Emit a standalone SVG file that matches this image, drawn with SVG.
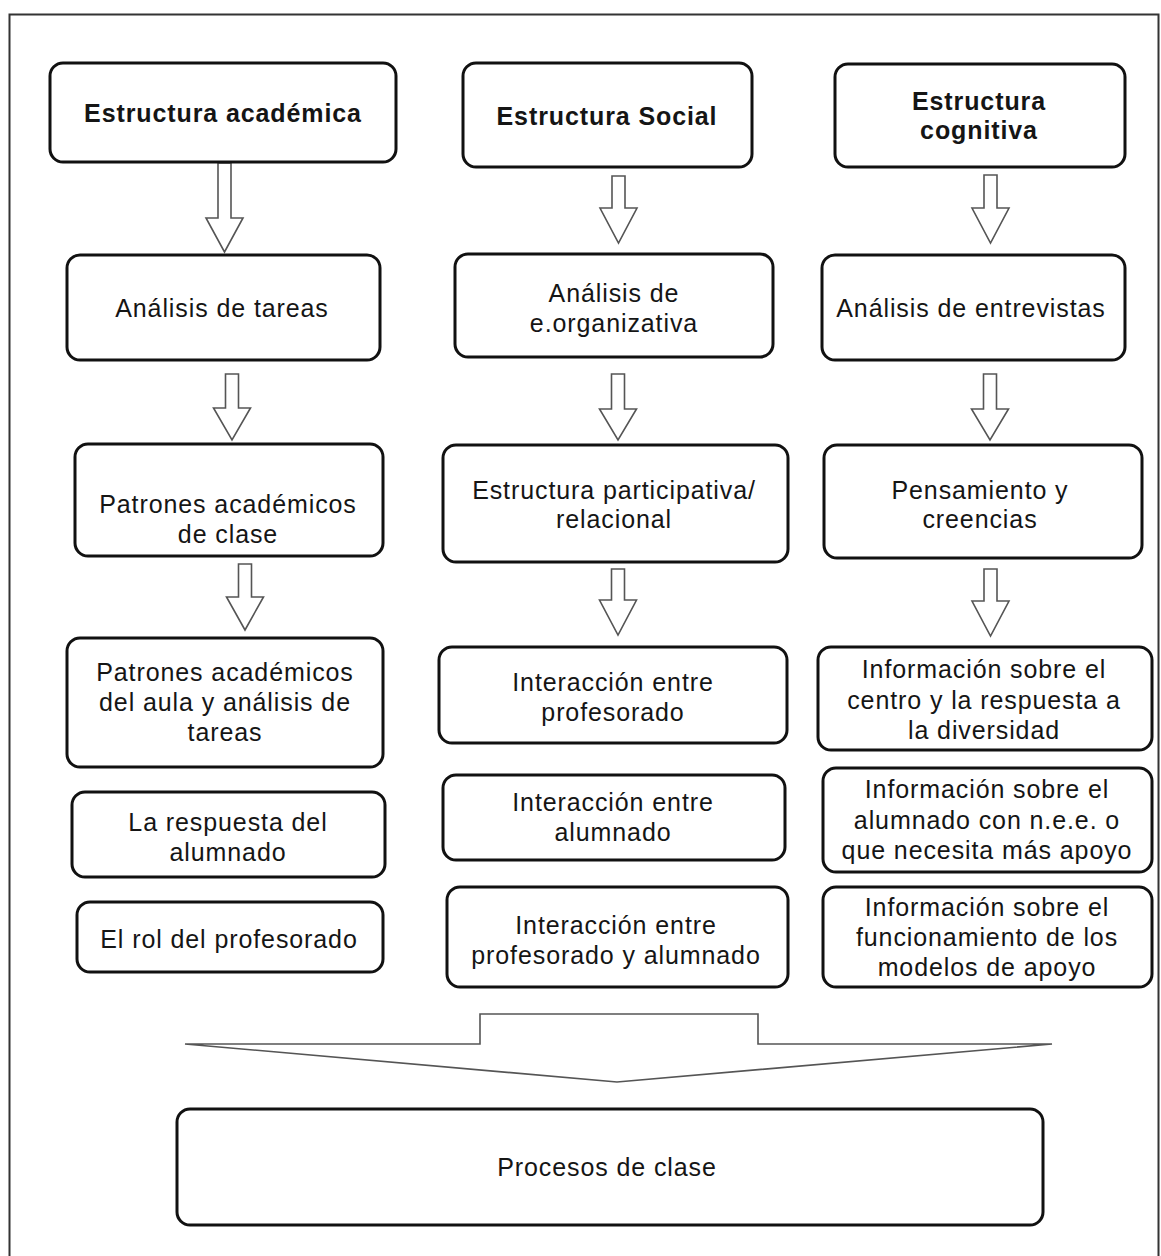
<svg xmlns="http://www.w3.org/2000/svg" width="1161" height="1256" viewBox="0 0 1161 1256">
<style>
.box{fill:#fff;stroke:#111;stroke-width:3}
.arr{fill:#fff;stroke:#555;stroke-width:1.6;stroke-linejoin:miter}
text{font-family:"Liberation Sans",Arial,sans-serif;font-size:25px;fill:#151515;text-anchor:middle;letter-spacing:0.9px}
.b{font-weight:bold}
</style>
<rect x="0" y="0" width="1161" height="1256" fill="#fff"/>
<rect x="9.5" y="14.5" width="1149" height="1260" fill="none" stroke="#333" stroke-width="2"/>

<g id="connectors">
<path class="arr" d="M218,163 H231 V218 H243 L224.5,252 L206,218 H218 Z"/>
<path class="arr" d="M225.5,374 H238.5 V408 H250.5 L232,440 L213.5,408 H225.5 Z"/>
<path class="arr" d="M238.5,564 H251.5 V597 H263.5 L245,630 L226.5,597 H238.5 Z"/>
<path class="arr" d="M612,176 H625 V208 H637 L618.5,243 L600,208 H612 Z"/>
<path class="arr" d="M611.5,374 H624.5 V409 H636.5 L618,440 L599.5,409 H611.5 Z"/>
<path class="arr" d="M611.5,569 H624.5 V600 H636.5 L618,635 L599.5,600 H611.5 Z"/>
<path class="arr" d="M984,175 H997 V208 H1009 L990.5,243 L972,208 H984 Z"/>
<path class="arr" d="M983.5,374 H996.5 V409 H1008.5 L990,440 L971.5,409 H983.5 Z"/>
<path class="arr" d="M984,569 H997 V601 H1009 L990.5,636 L972,601 H984 Z"/>
<path class="arr" d="M185,1044 H480 V1014 H758 V1044 H1052 L617,1082 Z"/>
</g>

<g id="n1"><rect class="box" x="50" y="63" width="346" height="99" rx="13"/><text class="b" x="223" y="122">Estructura académica</text></g>
<g id="n2"><rect class="box" x="463" y="63" width="289" height="104" rx="13"/><text class="b" x="607" y="125">Estructura Social</text></g>
<g id="n3"><rect class="box" x="835" y="64" width="290" height="103" rx="13"/><text class="b" x="979" y="110">Estructura</text><text class="b" x="979" y="139">cognitiva</text></g>

<g id="n4"><rect class="box" x="67" y="255" width="313" height="105" rx="13"/><text x="222" y="317">Análisis de tareas</text></g>
<g id="n5"><rect class="box" x="455" y="254" width="318" height="103" rx="13"/><text x="614" y="302">Análisis de</text><text x="614" y="332">e.organizativa</text></g>
<g id="n6"><rect class="box" x="822" y="255" width="303" height="105" rx="13"/><text x="971" y="317">Análisis de entrevistas</text></g>

<g id="n7"><rect class="box" x="75" y="444" width="308" height="112" rx="13"/><text x="228" y="513">Patrones académicos</text><text x="228" y="543">de clase</text></g>
<g id="n8"><rect class="box" x="443" y="445" width="345" height="117" rx="13"/><text x="614" y="499">Estructura participativa/</text><text x="614" y="528">relacional</text></g>
<g id="n9"><rect class="box" x="824" y="445" width="318" height="113" rx="13"/><text x="980" y="499">Pensamiento y</text><text x="980" y="528">creencias</text></g>

<g id="n10"><rect class="box" x="67" y="638" width="316" height="129" rx="13"/><text x="225" y="681">Patrones académicos</text><text x="225" y="711">del aula y análisis de</text><text x="225" y="741">tareas</text></g>
<g id="n11"><rect class="box" x="439" y="647" width="348" height="96" rx="13"/><text x="613" y="691">Interacción entre</text><text x="613" y="721">profesorado</text></g>
<g id="n12"><rect class="box" x="818" y="647" width="334" height="103" rx="13"/><text x="984" y="678">Información sobre el</text><text x="984" y="709">centro y la respuesta a</text><text x="984" y="739">la diversidad</text></g>

<g id="n13"><rect class="box" x="72" y="792" width="313" height="85" rx="13"/><text x="228" y="831">La respuesta del</text><text x="228" y="861">alumnado</text></g>
<g id="n14"><rect class="box" x="443" y="775" width="342" height="85" rx="13"/><text x="613" y="811">Interacción entre</text><text x="613" y="841">alumnado</text></g>
<g id="n15"><rect class="box" x="823" y="768" width="329" height="104" rx="13"/><text x="987" y="798">Información sobre el</text><text x="987" y="829">alumnado con n.e.e. o</text><text x="987" y="859">que necesita más apoyo</text></g>

<g id="n16"><rect class="box" x="77" y="902" width="306" height="70" rx="13"/><text x="229" y="948">El rol del profesorado</text></g>
<g id="n17"><rect class="box" x="447" y="887" width="341" height="100" rx="13"/><text x="616" y="934">Interacción entre</text><text x="616" y="964">profesorado y alumnado</text></g>
<g id="n18"><rect class="box" x="823" y="887" width="329" height="100" rx="13"/><text x="987" y="916">Información sobre el</text><text x="987" y="946">funcionamiento de los</text><text x="987" y="976">modelos de apoyo</text></g>

<g id="n19"><rect class="box" x="177" y="1109" width="866" height="116" rx="13"/><text x="607" y="1176">Procesos de clase</text></g>
</svg>
